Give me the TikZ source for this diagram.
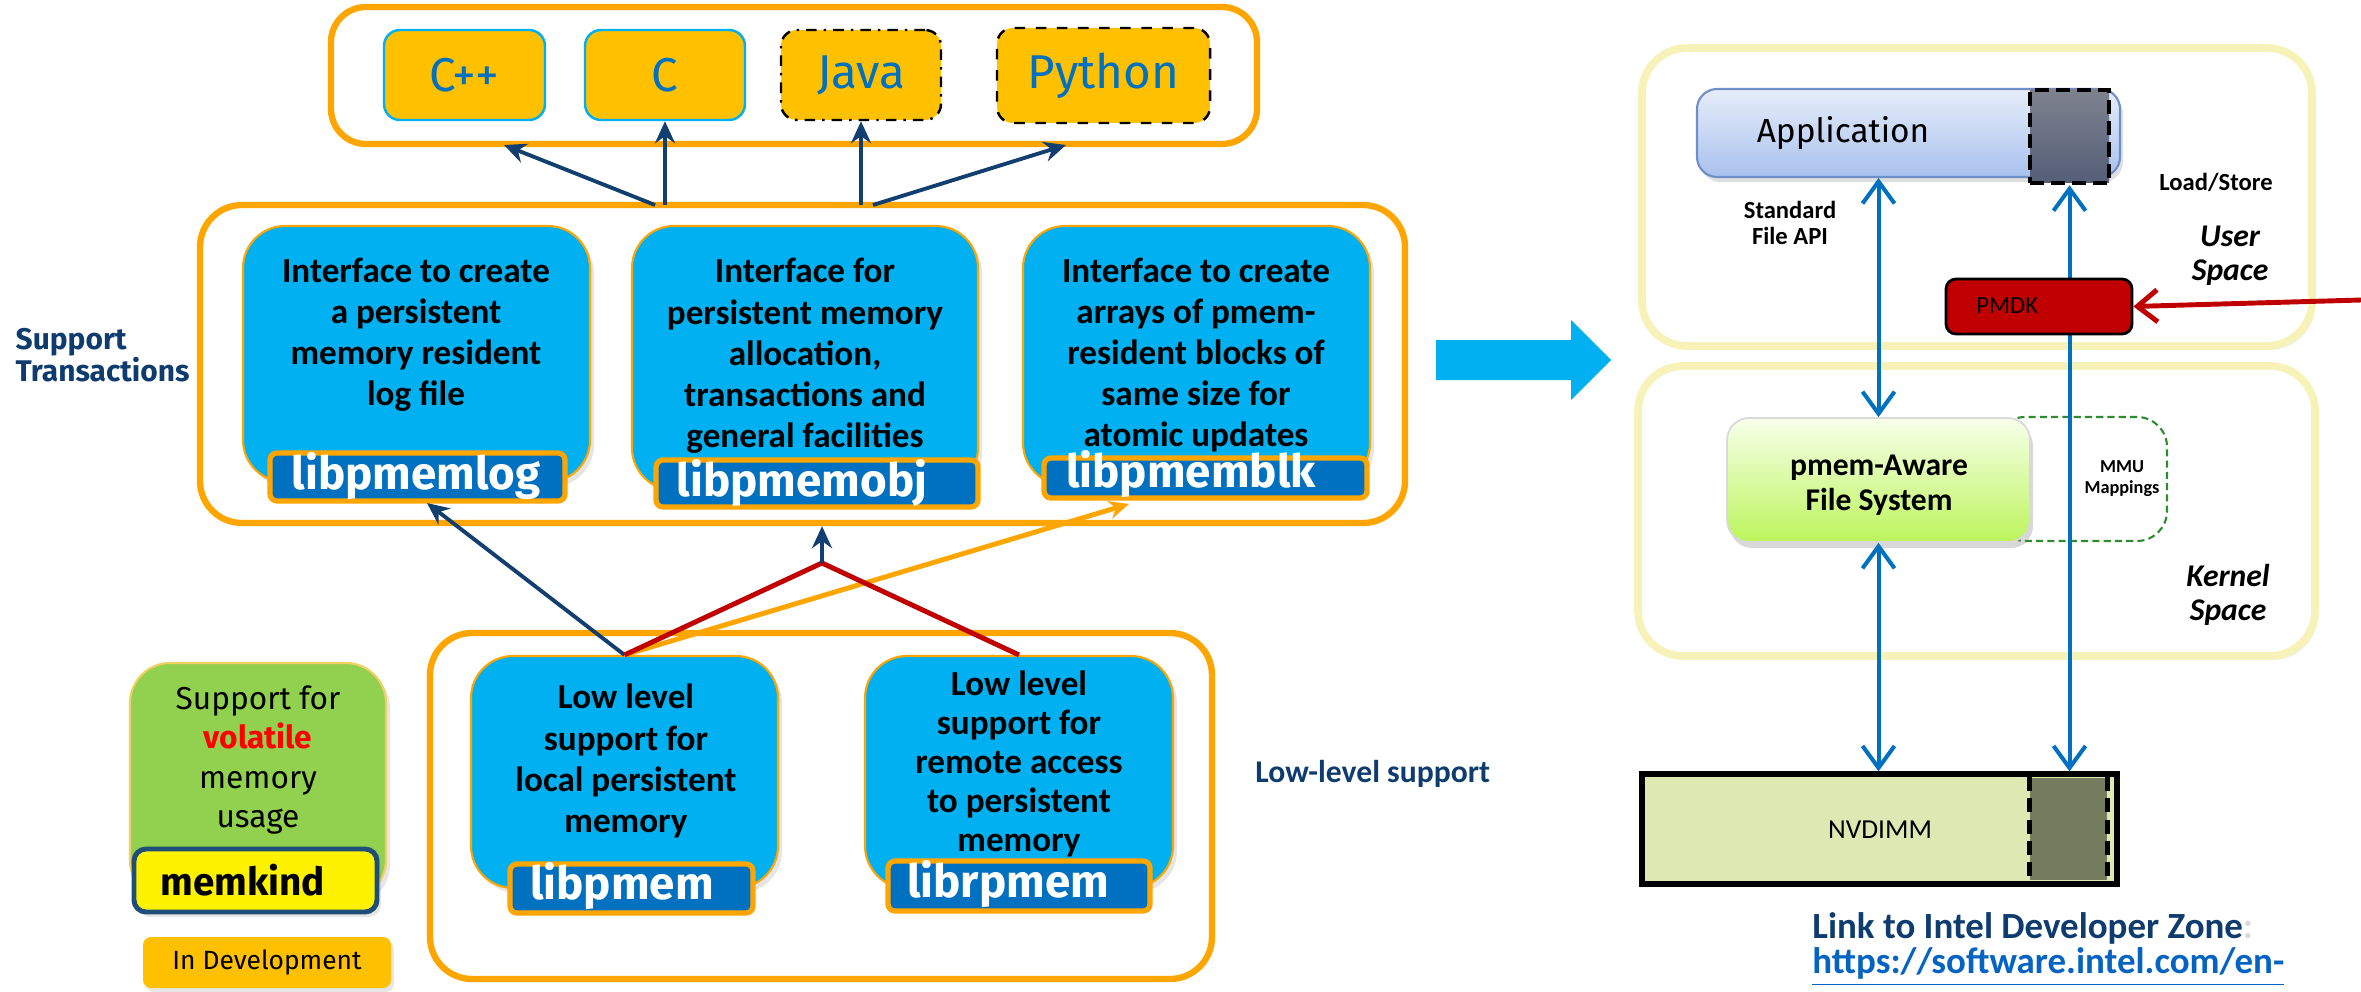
\documentclass[tikz,border=0pt]{standalone}
\usepackage{fontspec}
\setmainfont{Carlito}
\newfontfamily\fira{Fira Sans}
\usetikzlibrary{arrows.meta,shadows}

\definecolor{corange}{HTML}{FFA500}
\definecolor{cgold}{HTML}{FFC000}
\definecolor{csky}{HTML}{00B0F0}
\definecolor{cblue}{HTML}{0070C0}
\definecolor{cnavy}{HTML}{123F70}
\definecolor{ctextnavy}{HTML}{0F3C6E}
\definecolor{cred}{HTML}{C00000}
\definecolor{cgreen}{HTML}{92D050}
\definecolor{cgreenline}{HTML}{F0D060}
\definecolor{cmemline}{HTML}{1F4E79}
\definecolor{cpale}{HTML}{F7F2B8}
\definecolor{capptop}{HTML}{E6EDFA}
\definecolor{cappbot}{HTML}{A9C1EE}
\definecolor{cappline}{HTML}{6F8FC9}
\definecolor{cdsqtop}{HTML}{7E828E}
\definecolor{cdsqbot}{HTML}{545E78}
\definecolor{cfstop}{HTML}{F7FFEA}
\definecolor{cfsbot}{HTML}{BCF55C}
\definecolor{cmmu}{HTML}{2E8B2E}
\definecolor{cnv}{HTML}{DCE9B2}
\definecolor{cnvdark}{HTML}{747E5E}
\definecolor{clink}{HTML}{0563C1}

% box given by its corners (x1,y1) and (x2,y2), in units of 0.01cm
\newcommand\mkbox[7][]{\node[#1,minimum width={(#5-#3)*0.01cm},minimum height={(#6-#4)*0.01cm},inner sep=0pt] (#2) at ({(#3+#5)/2},{(#4+#6)/2}) {#7};}

\begin{document}
\begin{tikzpicture}[x=0.01cm,y=-0.01cm,
  container/.style={draw=corange,line width=1.8pt,rounded corners=0.42cm,fill=white},
  lang/.style={fill=cgold,rounded corners=0.16cm,line width=0.7pt},
  bluebox/.style={fill=csky,draw=corange,line width=0.6pt,rounded corners=0.42cm,
    drop shadow={opacity=0.2,shadow xshift=0.04cm,shadow yshift=-0.05cm}},
  libtag/.style={fill=cblue,draw=corange,line width=1.5pt,rounded corners=0.07cm},
  libtext/.style={text=white,font=\fira\bfseries\fontsize{13}{15}\selectfont},
  boxtext/.style={font=\bfseries\fontsize{10}{11.7}\selectfont,align=center},
  navyarrow/.style={draw=cnavy,line width=1.1pt,-{Stealth[length=0.22cm,width=0.2cm]}},
  redline/.style={draw=cred,line width=1.4pt},
  sidelabel/.style={text=ctextnavy,font=\fira\bfseries\fontsize{8.5}{9.3}\selectfont,align=left,inner sep=0pt},
  space/.style={draw=cpale,line width=2.2pt,rounded corners=0.45cm,fill=white,
    drop shadow={opacity=0.12,shadow xshift=0.03cm,shadow yshift=-0.04cm}},
  spacetext/.style={font=\bfseries\itshape\fontsize{9}{9.6}\selectfont,align=center},
  smallbold/.style={font=\bfseries\fontsize{7}{7.5}\selectfont,align=center},
  bluelink/.style={draw=cblue,line width=1.15pt,
    {Straight Barb[length=0.22cm,width=0.32cm]}-{Straight Barb[length=0.22cm,width=0.32cm]}}
]
\useasboundingbox (0,0) rectangle (2361,991);

% ---------------- language bindings ----------------
\mkbox[container,rounded corners=0.35cm]{langs}{331}{7}{1257}{144}{}
\mkbox[lang,draw=csky]{cpp}{384}{30}{545}{120}{\fira\fontsize{13.5}{16}\selectfont\color{cblue}C++}
\mkbox[lang,draw=csky]{cc}{585}{30}{745}{120}{\fira\fontsize{13.5}{16}\selectfont\color{cblue}C}
\mkbox[lang,draw=black,dash dot]{java}{781}{30}{941}{120}{\fira\fontsize{13.5}{16}\selectfont\color{cblue}Java}
\mkbox[lang,draw=black,dashed]{python}{997}{28}{1210}{123}{\fira\fontsize{13.5}{16}\selectfont\color{cblue}Python}

% ---------------- transactional libraries ----------------
\mkbox[container]{mid}{200}{205}{1405}{523}{}
\mkbox[bluebox]{b1}{243}{226}{590}{482}{}
\mkbox[bluebox]{b2}{632}{226}{978}{490}{}
\mkbox[bluebox]{b3}{1023}{226}{1370}{485}{}
\node[boxtext] (d1) at (416,335) {Interface to create\\a persistent\\memory resident\\log file};
\node[boxtext] (d2) at (805,356) {Interface for\\persistent memory\\allocation,\\transactions and\\general facilities};
\node[boxtext] (d3) at (1196,355) {Interface to create\\arrays of pmem-\\resident blocks of\\same size for\\atomic updates};
\mkbox[libtag]{tag1}{270}{453}{565}{501}{}
\mkbox[libtag]{tag2}{656}{460}{978}{507}{}
\mkbox[libtag]{tag3}{1044}{458}{1367}{498}{}
\node[libtext] (l1) at (416,476) {libpmemlog};
\node[libtext] (l2) at (802,483) {libpmemobj};
\node[libtext] (l3) at (1191,474) {libpmemblk};

\node[sidelabel,anchor=west] (sup) at (15,355) {Support\\Transactions};

% arrows up to the language bindings
\coordinate (o1) at (655,205);
\coordinate (o2) at (665,205);
\coordinate (o3) at (861,205);
\coordinate (o4) at (873,205);
\coordinate (k1) at (504,145);
\coordinate (k4) at (1066,145);
\draw[navyarrow] (o1) -- (k1);
\draw[navyarrow] (o2) -- (cc.south);
\draw[navyarrow] (o3) -- (java.south);
\draw[navyarrow] (o4) -- (k4);

% ---------------- low-level libraries ----------------
\mkbox[container]{low}{430}{633}{1212}{979}{}
\mkbox[bluebox]{pm}{471}{656}{778}{888}{}
\mkbox[bluebox]{rpm}{865}{656}{1173}{888}{}
\node[boxtext] (d4) at (626,761) {Low level\\support for\\local persistent\\memory};
\node[boxtext,font=\bfseries\fontsize{10}{11.1}\selectfont] (d5) at (1019,764) {Low level\\support for\\remote access\\to persistent\\memory};
\mkbox[libtag]{tag4}{510}{864}{753}{913}{}
\mkbox[libtag]{tag5}{888}{861}{1150}{911}{}
\node[libtext] (l4) at (622,886) {libpmem};
\node[libtext] (l5) at (1008,884) {librpmem};

\node[text=ctextnavy,font=\bfseries\fontsize{9}{10}\selectfont,anchor=west] (lls) at (1243,774) {Low-level support};

% links between the two layers
\coordinate (j1) at (427,503);
\coordinate (jn) at (822,563);
\coordinate (j3) at (1129,504);
\draw[navyarrow] (pm.north) -- (j1);
\draw[draw=corange,line width=1.4pt,-{Stealth[length=0.2cm,width=0.18cm]}] (pm.north) -- (j3);
\draw[redline] (pm.north) -- (jn);
\draw[redline] (jn) -- (rpm.north);
\draw[navyarrow] (jn) -- (jn |- mid.south);

% ---------------- volatile memory ----------------
\mkbox[fill=cgreen,draw=cgreenline,line width=0.6pt,rounded corners=0.4cm,
  drop shadow={opacity=0.2,shadow xshift=0.04cm,shadow yshift=-0.05cm}]{vol}{130}{663}{386}{900}{}
\node[font=\fira\fontsize{9}{11.2}\selectfont,align=center] (vt) at (258,760)
  {Support for\\{\bfseries\color{red}volatile}\\memory\\usage};
\mkbox[fill=yellow,draw=cmemline,line width=1.4pt,rounded corners=0.12cm,
  drop shadow={opacity=0.2,shadow xshift=0.04cm,shadow yshift=-0.05cm}]{mk}{134}{849}{377}{912}{}
\node[font=\fira\bfseries\fontsize{11}{13}\selectfont,anchor=west] (mkt) at (148,880) {memkind};
\mkbox[fill=cgold,rounded corners=0.08cm,
  drop shadow={opacity=0.2,shadow xshift=0.03cm,shadow yshift=-0.04cm}]{indev}{143}{937}{391}{988}{\fira\fontsize{7.5}{9}\selectfont In Development}

% ---------------- big arrow ----------------
\fill[csky] (1436,340) -- (1571,340) -- (1571,320) -- (1611,360) -- (1571,400) -- (1571,380) -- (1436,380) -- cycle;

% ---------------- software stack ----------------
\mkbox[space]{user}{1642}{48}{2312}{346}{}
\mkbox[space]{kernel}{1638}{366}{2315}{656}{}

\mkbox[top color=capptop,bottom color=cappbot,draw=cappline,line width=0.6pt,rounded corners=0.2cm,
  drop shadow={opacity=0.25,shadow xshift=0.03cm,shadow yshift=-0.05cm}]{app}{1697}{89}{2120}{177}{}
\node[font=\fira\fontsize{9.5}{11}\selectfont] (appt) at (1843,133) {Application};
\mkbox[top color=cdsqtop,bottom color=cdsqbot,draw=black,line width=1.3pt,dash pattern=on 4pt off 2pt]{dsq}{2030}{90}{2109}{183}{}

\mkbox[draw=cmmu,line width=0.6pt,dash pattern=on 2pt off 1.2pt,rounded corners=0.3cm]{mmu}{1995}{417}{2167}{541}{}
\node[font=\bfseries\fontsize{5.2}{6}\selectfont,align=center] (mmut) at (2122,479) {MMU\\Mappings};

\mkbox[top color=cfstop,bottom color=cfsbot,draw=white!85!black,line width=0.5pt,rounded corners=0.22cm,
  drop shadow={opacity=0.3,shadow xshift=0.03cm,shadow yshift=-0.06cm}]{fs}{1727}{418}{2030}{542}{}
\node[font=\bfseries\fontsize{9}{9.8}\selectfont,align=center] (fst) at (1879,485) {pmem-Aware\\File System};

\mkbox[fill=cnv,draw=black,line width=1.5pt]{nv}{1642}{774}{2117}{884}{}
\mkbox[fill=cnvdark]{nvd}{2030}{778}{2107}{880}{}
\draw[black,line width=1.3pt,dash pattern=on 4pt off 2pt] (nvd.north west) -- (nvd.south west);
\draw[black,line width=1.3pt,dash pattern=on 4pt off 2pt] (nvd.north east) -- (nvd.south east);
\node[font=\fontsize{7.8}{9}\selectfont] (nvt) at (1880,830) {NVDIMM};

% data paths
\draw[bluelink] (fs.north) -- (fs.north |- app.south);
\draw[bluelink] (fs.south) -- (fs.south |- nv.north);
\draw[bluelink] (dsq.south) -- (dsq.south |- nv.north);

\mkbox[fill=cred,draw=black,line width=0.8pt,rounded corners=0.1cm]{pmdk}{1946}{279}{2132}{334}{}
\node[font=\fontsize{7}{8}\selectfont,anchor=west] (pmdkt) at (1964,306) {PMDK};
\coordinate (rin) at (2361,300);
\draw[draw=cred,line width=1.4pt,-{Straight Barb[length=0.2cm,width=0.32cm]}] (rin) -- (pmdk.east);

\node[smallbold] (ls) at (2216,182) {Load/Store};
\node[smallbold,font=\bfseries\fontsize{7}{7.4}\selectfont] (api) at (1790,223) {Standard\\File API};
\node[spacetext] (us) at (2230,256) {User\\Space};
\node[spacetext] (ks) at (2228,595) {Kernel\\Space};

\node[anchor=west,font=\bfseries\fontsize{10.5}{12}\selectfont,text=ctextnavy] (lk) at (1800,928)
  {Link to Intel Developer Zone{\color{black!15}:}};
\node[anchor=west,font=\bfseries\fontsize{10.5}{12}\selectfont,text=clink] (url) at (1800,967)
  {\underline{https://software.intel.com/en-}};
\end{tikzpicture}
\end{document}
